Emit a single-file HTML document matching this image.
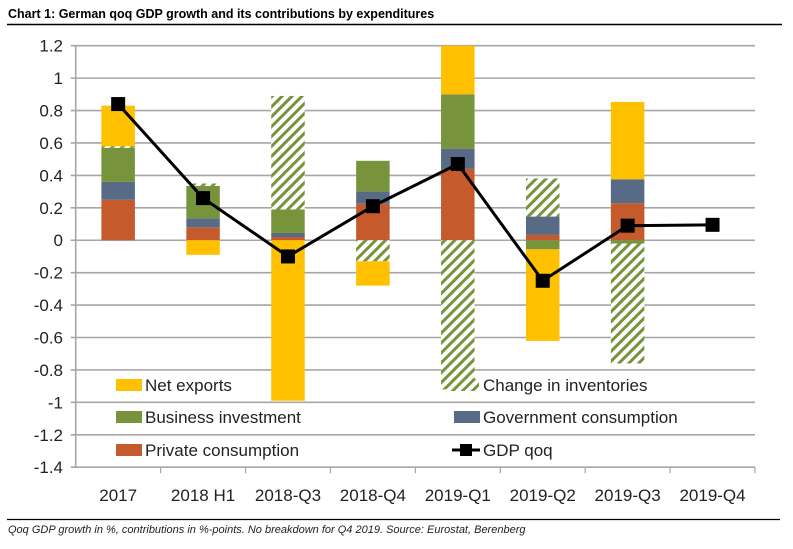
<!DOCTYPE html>
<html><head><meta charset="utf-8"><style>
html,body{margin:0;padding:0;background:#fff;}
svg{display:block;font-family:"Liberation Sans",sans-serif;}
</style></head><body>
<svg id="chart" width="793" height="549">
<defs>
<pattern id="hatch" patternUnits="userSpaceOnUse" width="7" height="7" patternTransform="rotate(45)">
<rect width="7" height="7" fill="#fff"/>
<rect width="3" height="7" fill="#77933c"/>
</pattern>
</defs>
<text x="8" y="18" font-size="12.5" font-weight="bold" fill="#000">Chart 1: German qoq GDP growth and its contributions by expenditures</text>
<line x1="7" y1="24.5" x2="782" y2="24.5" stroke="#000" stroke-width="1.5"/>
<g id="grid"></g>
<g id="bars"></g>
<g id="line"></g>
<g id="axes"></g>
<g id="legend">
<rect x="116" y="379" width="26" height="12" fill="#ffc000"/>
<text x="145" y="391" font-size="17" fill="#222">Net exports</text>
<rect x="451" y="379" width="28" height="12" fill="url(#hatch)"/>
<text x="483" y="391" font-size="17" fill="#222">Change in inventories</text>
<rect x="116" y="411" width="26" height="12" fill="#77933c"/>
<text x="145" y="423" font-size="17" fill="#222">Business investment</text>
<rect x="454" y="411" width="26" height="12" fill="#586b86"/>
<text x="483" y="423" font-size="17" fill="#222">Government consumption</text>
<rect x="116" y="444" width="26" height="12" fill="#c55a2c"/>
<text x="145" y="456" font-size="17" fill="#222">Private consumption</text>
<line x1="452" y1="450" x2="480" y2="450" stroke="#000" stroke-width="3"/>
<rect x="460" y="444" width="12" height="12" fill="#000"/>
<text x="483" y="456" font-size="17" fill="#222">GDP qoq</text>
</g>
<line x1="7" y1="519.5" x2="780" y2="519.5" stroke="#000" stroke-width="1.2"/>
<text x="8" y="533" font-size="11" font-style="italic" fill="#222">Qoq GDP growth in %, contributions in %-points. No breakdown for Q4 2019. Source: Eurostat, Berenberg</text>
</svg>
<script>
const categories = ["2017","2018 H1","2018-Q3","2018-Q4","2019-Q1","2019-Q2","2019-Q3","2019-Q4"];
const privateCons = [0.25,0.08,0.02,0.225,0.44,0.033,0.228,null];
const govCons = [0.11,0.055,0.025,0.075,0.125,0.113,0.148,null];
const businessInv = [0.21,0.2,0.145,0.19,0.335,-0.056,-0.02,null];
const inventories = [0.01,0.015,0.70,-0.13,-0.92,0.235,-0.74,null];
const netExports = [0.25,-0.09,-0.99,-0.15,0.30,-0.565,0.477,null];
const gdp = [0.84,0.26,-0.10,0.21,0.47,-0.25,0.09,0.095];
const yTicks = [1.2,1,0.8,0.6,0.4,0.2,0,-0.2,-0.4,-0.6,-0.8,-1,-1.2,-1.4];
const yTickLabels = ["1.2","1","0.8","0.6","0.4","0.2","0","-0.2","-0.4","-0.6","-0.8","-1","-1.2","-1.4"];

const NS="http://www.w3.org/2000/svg";
const plotLeft=75.7, plotRight=755, plotTop=45.7, yMin=-1.4, yMax=1.2, plotBottom=467.2;
const band=(plotRight-plotLeft)/categories.length;
function yScale(v){return plotTop+(yMax-v)/(yMax-yMin)*(plotBottom-plotTop);}
function xc(i){return plotLeft+band*(i+0.5);}
function mk(tag,attrs,parent){const e=document.createElementNS(NS,tag);for(const k in attrs)e.setAttribute(k,attrs[k]);parent.appendChild(e);return e;}

const grid=document.getElementById('grid'), axes=document.getElementById('axes');
yTicks.forEach((t,i)=>{
  const ln=mk('line',{x1:plotLeft-5,x2:plotRight,y1:yScale(t),y2:yScale(t),stroke:'#a6a6a6','stroke-width':1.6},grid);
  
  
  const tx=mk('text',{x:63,y:yScale(t)+6,'text-anchor':'end','font-size':17,fill:'#222'},axes);
  tx.textContent=yTickLabels[i];
  
  
});
const ya=mk('line',{x1:plotLeft,x2:plotLeft,y1:plotTop,y2:plotBottom,stroke:'#a6a6a6','stroke-width':1.6},axes);


categories.forEach((c,i)=>{
  const tk=mk('line',{x1:plotLeft+band*(i+1),x2:plotLeft+band*(i+1),y1:plotBottom,y2:plotBottom+6,stroke:'#a6a6a6','stroke-width':1.2},axes);
  
  
  const tx=mk('text',{x:xc(i),y:501,'text-anchor':'middle','font-size':17,fill:'#222'},axes);
  tx.textContent=c;
  
  
});

const series=[
  {d:privateCons,f:'#c55a2c',n:'private-consumption'},
  {d:govCons,f:'#586b86',n:'government-consumption'},
  {d:businessInv,f:'#77933c',n:'business-investment'},
  {d:inventories,f:'url(#hatch)',n:'inventories'},
  {d:netExports,f:'#ffc000',n:'net-exports'}];
const bars=document.getElementById('bars');
const bw=33.5;
categories.forEach((c,i)=>{
  let pos=0,neg=0;
  series.forEach(s=>{
    const v=s.d[i]; if(v==null)return;
    let a,b;
    if(v>=0){a=pos;b=pos+v;pos=b;}else{a=neg;b=neg+v;neg=b;}
    const hi=Math.min(yMax,Math.max(a,b)), lo=Math.max(yMin,Math.min(a,b));
    const r=mk('rect',{x:xc(i)-bw/2,y:yScale(hi),width:bw,height:Math.max(0,yScale(lo)-yScale(hi)),fill:s.f},bars);
    
    
  });
});
const lg=document.getElementById('line');
const pts=gdp.map((v,i)=>xc(i)+','+yScale(v)).join(' ');
const pl=mk('polyline',{points:pts,fill:'none',stroke:'#000','stroke-width':3},lg);


gdp.forEach((v,i)=>{
  const m=mk('rect',{x:xc(i)-7,y:yScale(v)-7,width:14,height:14,fill:'#000'},lg);
  
  
});
</script>
</body></html>
